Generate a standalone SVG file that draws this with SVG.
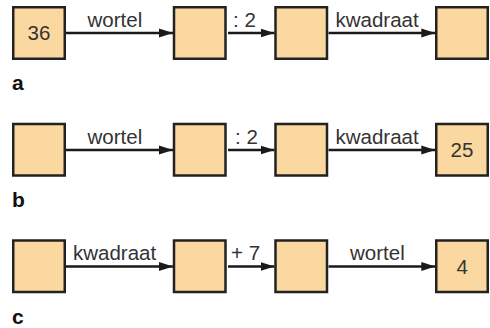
<svg xmlns="http://www.w3.org/2000/svg" width="490" height="328" viewBox="0 0 490 328">
<style>
.box{fill:#FCD8A1;stroke:#222;stroke-width:2.5}
.t{font-family:"Liberation Sans",Arial,sans-serif;font-size:20.5px;fill:#333}
.v{font-family:"Liberation Sans",Arial,sans-serif;font-size:20.5px;fill:#333;text-anchor:middle}
.lab{font-family:"Liberation Sans",Arial,sans-serif;font-size:21px;font-weight:bold;fill:#111}
.ar{stroke:#1a1a1a;stroke-width:2.5;fill:none;marker-end:url(#ah)}
</style>
<defs>
<marker id="ah" markerUnits="userSpaceOnUse" markerWidth="16" markerHeight="12" refX="14" refY="5" orient="auto">
<path d="M0,0.5 L14,5 L0,9.5 Z" fill="#1a1a1a"/>
</marker>
</defs>
<g id="connectors">
<line class="ar" x1="66" y1="33" x2="173" y2="33"/>
<line class="ar" x1="228" y1="33" x2="274.5" y2="33"/>
<line class="ar" x1="328.5" y1="33" x2="435.3" y2="33"/>
<line class="ar" x1="66" y1="150" x2="173" y2="150"/>
<line class="ar" x1="228" y1="150" x2="274.5" y2="150"/>
<line class="ar" x1="328.5" y1="150" x2="435.3" y2="150"/>
<line class="ar" x1="66" y1="266.5" x2="173" y2="266.5"/>
<line class="ar" x1="228" y1="266.5" x2="274.5" y2="266.5"/>
<line class="ar" x1="328.5" y1="266.5" x2="435.3" y2="266.5"/>
</g>
<g id="edge-labels">
<text class="t" x="87.5" y="27">wortel</text>
<text class="t" x="233" y="27">: 2</text>
<text class="t" x="335.5" y="27">kwadraat</text>
<text class="t" x="87.5" y="143.5">wortel</text>
<text class="t" x="235" y="143.5">: 2</text>
<text class="t" x="335.5" y="143.5">kwadraat</text>
<text class="t" x="73" y="260">kwadraat</text>
<text class="t" x="231" y="260">+ 7</text>
<text class="t" x="350" y="260">wortel</text>
</g>
<g id="a1"><rect class="box" x="13.25" y="7.25" width="51.5" height="51.5"/><text class="v" x="39" y="40">36</text></g>
<g id="a2"><rect class="box" x="174" y="7.25" width="51.5" height="51.5"/></g>
<g id="a3"><rect class="box" x="275.5" y="7.25" width="51.5" height="51.5"/></g>
<g id="a4"><rect class="box" x="436.25" y="7.25" width="51.5" height="51.5"/></g>
<g id="b1"><rect class="box" x="13.25" y="124" width="51.5" height="51.5"/></g>
<g id="b2"><rect class="box" x="174" y="124" width="51.5" height="51.5"/></g>
<g id="b3"><rect class="box" x="275.5" y="124" width="51.5" height="51.5"/></g>
<g id="b4"><rect class="box" x="436.25" y="124" width="51.5" height="51.5"/><text class="v" x="462" y="157.3">25</text></g>
<g id="c1"><rect class="box" x="13.25" y="240.5" width="51.5" height="51.5"/></g>
<g id="c2"><rect class="box" x="174" y="240.5" width="51.5" height="51.5"/></g>
<g id="c3"><rect class="box" x="275.5" y="240.5" width="51.5" height="51.5"/></g>
<g id="c4"><rect class="box" x="436.25" y="240.5" width="51.5" height="51.5"/><text class="v" x="462.3" y="273.5">4</text></g>
<g id="labels">
<text class="lab" x="12" y="90">a</text>
<text class="lab" x="12" y="206.5">b</text>
<text class="lab" x="12" y="324">c</text>
</g>
</svg>
